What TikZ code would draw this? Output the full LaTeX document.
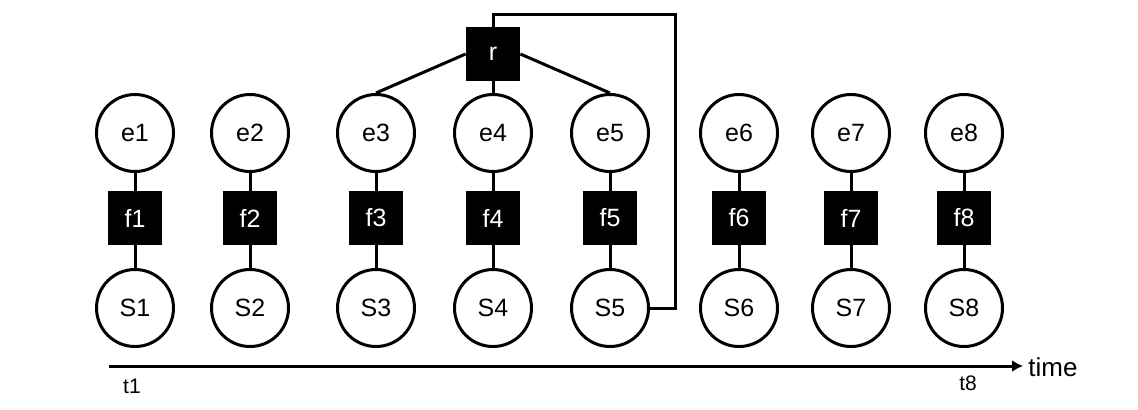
\documentclass[tikz,border=0pt]{standalone}
\usepackage{fontspec}
\setmainfont{Liberation Sans}
\usetikzlibrary{positioning, arrows.meta}
\tikzset{
    var/.style={circle, draw, line width=1.5pt, minimum size=38.5pt, inner sep=0pt}, % nodi variabile
    factor/.style={rectangle, fill=black, text=white, minimum size=27pt, inner sep=0pt}, % nodi fattore
    link/.style={line width=1.5pt},
}

\begin{document}
\begin{tikzpicture}
                [x=0.5pt, y=-0.5pt, on grid, font=\fontsize{12.5}{15}\selectfont]
                \useasboundingbox (0,0) rectangle (1138,409);
                % Evidenze
                \node[var] (e1) at (135,133) {e1};
                \node[var] (e2) at (250,133) {e2};
                \node[var] (e3) at (376,133) {e3};
                \node[var] (e4) at (493,133) {e4};
                \node[var] (e5) at (610,133) {e5};
                \node[var] (e6) at (739,133) {e6};
                \node[var] (e7) at (851,133) {e7};
                \node[var] (e8) at (964,133) {e8};

                % Fattori
                \node[factor] (f1) [below=42.5pt of e1] {f1};
                \node[factor] (f2) [below=42.5pt of e2] {f2};
                \node[factor] (f3) [below=42.5pt of e3] {f3};
                \node[factor] (f4) [below=42.5pt of e4] {f4};
                \node[factor] (f5) [below=42.5pt of e5] {f5};
                \node[factor] (f6) [below=42.5pt of e6] {f6};
                \node[factor] (f7) [below=42.5pt of e7] {f7};
                \node[factor] (f8) [below=42.5pt of e8] {f8};

                % Stati
                \node[var] (S1) [below=45pt of f1] {S1};
                \node[var] (S2) [below=45pt of f2] {S2};
                \node[var] (S3) [below=45pt of f3] {S3};
                \node[var] (S4) [below=45pt of f4] {S4};
                \node[var] (S5) [below=45pt of f5] {S5};
                \node[var] (S6) [below=45pt of f6] {S6};
                \node[var] (S7) [below=45pt of f7] {S7};
                \node[var] (S8) [below=45pt of f8] {S8};

                % Radice
                \node[factor] (r) at (493,54) {r};
                \coordinate (loop) at (675,14);

                % Tempo
                \coordinate (t0) at (109,366);
                \coordinate (tend) at (1023,366);
                \node[anchor=west, inner sep=0pt, font=\fontsize{13}{15}\selectfont] (time) at (1028,367) {time};
                \node[font=\fontsize{10.5}{13}\selectfont] (t1) at (132,386) {t1};
                \node[font=\fontsize{10.5}{13}\selectfont] (t8) at (968,383) {t8};

                % Archi
                \path[link]
                    (e1) edge (f1) (f1) edge (S1)
                    (e2) edge (f2) (f2) edge (S2)
                    (e3) edge (f3) (f3) edge (S3)
                    (e4) edge (f4) (f4) edge (S4)
                    (e5) edge (f5) (f5) edge (S5)
                    (e6) edge (f6) (f6) edge (S6)
                    (e7) edge (f7) (f7) edge (S7)
                    (e8) edge (f8) (f8) edge (S8)
                    (r.west) edge (e3.north)
                    (r.south) edge (e4.north)
                    (r.east) edge (e5.north);
                \draw[link] (r.north) |- (loop) |- (S5.east);
                \draw[link, -{Latex[length=5.5pt, width=6pt]}] (t0) -- (tend);
            \end{tikzpicture}
\end{document}
